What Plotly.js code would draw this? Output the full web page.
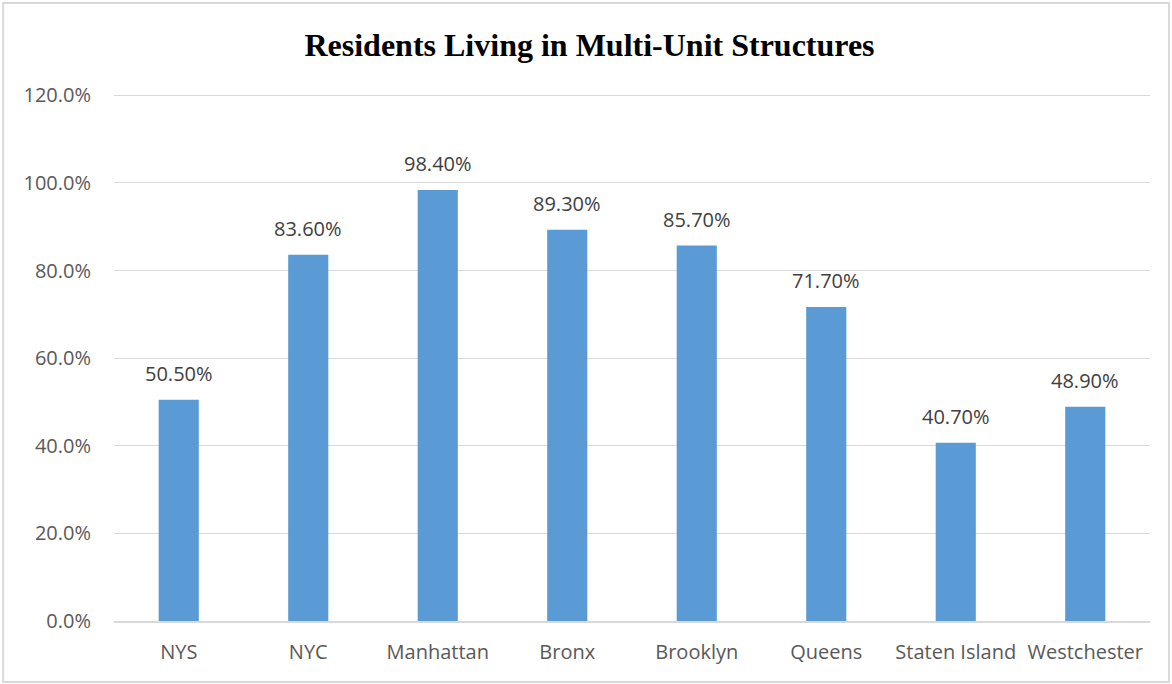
<!DOCTYPE html>
<html><head><meta charset="utf-8">
<script src="https://cdn.plot.ly/plotly-3.0.1.min.js"></script>
<style>html,body{margin:0;padding:0;background:#fff}#chart{width:1172px;height:684px}</style>
</head><body><div id="chart"></div>
<script>
const categories = ["NYS","NYC","Manhattan","Bronx","Brooklyn","Queens","Staten Island","Westchester"];
const values = [50.5, 83.6, 98.4, 89.3, 85.7, 71.7, 40.7, 48.9];
const labels = ["50.50%","83.60%","98.40%","89.30%","85.70%","71.70%","40.70%","48.90%"];
const tickVals = [0,20,40,60,80,100,120];
const tickText = ["0.0%","20.0%","40.0%","60.0%","80.0%","100.0%","120.0%"];

const FONT = "Open Sans, Liberation Sans, sans-serif";
const trace = {
  type: "bar", x: categories, y: values,
  marker: {color: "#5B9BD5"}, width: 0.31, hoverinfo: "none"
};
const annotations = categories.map((c, i) => ({
  x: c, y: values[i], xref: "x", yref: "y", text: labels[i], showarrow: false,
  yanchor: "bottom", yshift: 11, font: {family: FONT, size: 20, color: "#404040"}
}));
const layout = {
  width: 1172, height: 684,
  margin: {l: 114, r: 22, t: 91, b: 63},
  paper_bgcolor: "#fff", plot_bgcolor: "#fff",
  showlegend: false,
  title: {text: "<b>Residents Living in Multi-Unit Structures</b>", x: 0.503, xanchor: "center", y: 0.934, yanchor: "middle",
    font: {family: "Liberation Serif, Times New Roman, serif", size: 32, color: "#000"}},
  xaxis: {type: "category", showgrid: false, showline: true, linecolor: "#d9d9d9", linewidth: 2,
    ticks: "", ticklabelstandoff: 12, tickfont: {family: FONT, size: 20, color: "#595959"}, automargin: false},
  yaxis: {range: [0, 121], tickvals: tickVals, ticktext: tickText, showgrid: true, gridcolor: "#d9d9d9", gridwidth: 1,
    zeroline: false, showline: false, ticks: "", ticklen: 0, ticklabelstandoff: 22,
    tickfont: {family: FONT, size: 20, color: "#595959"}, automargin: false},
  annotations: annotations,
  shapes: [{type: "rect", xref: "paper", yref: "paper", x0: -0.107, x1: 1.0183, y0: -0.115, y1: 1.166,
    line: {color: "#d9d9d9", width: 2}, fillcolor: "rgba(0,0,0,0)"}]
};
Plotly.newPlot("chart", [trace], layout, {displayModeBar: false, staticPlot: true});
</script></body></html>
